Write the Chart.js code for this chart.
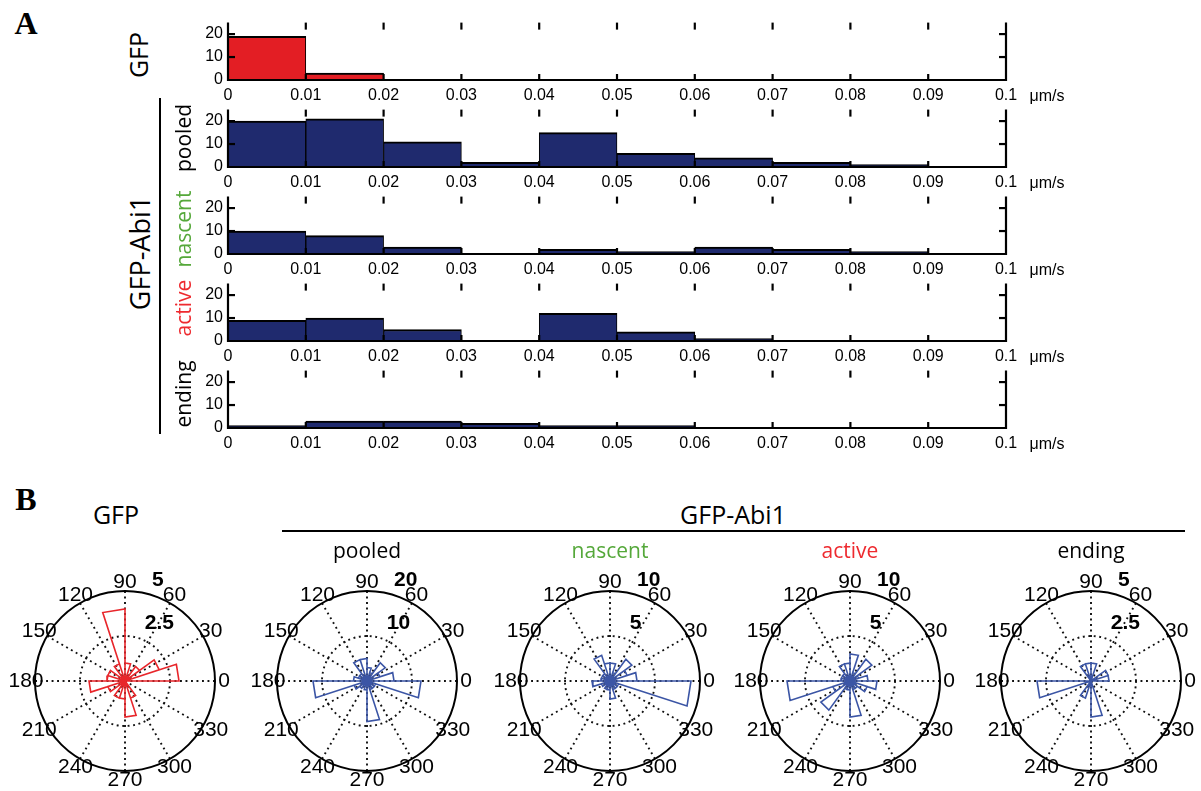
<!DOCTYPE html>
<html>
<head>
<meta charset="utf-8">
<script src="https://cdn.jsdelivr.net/npm/chart.js@4.4.1/dist/chart.umd.min.js"></script>
<style>
body{margin:0;background:#fff;width:1201px;height:791px;position:relative;overflow:hidden;font-family:"Open Sans",sans-serif}
.lbl{position:absolute;white-space:nowrap;line-height:1;color:#000}
canvas{position:absolute}
</style>
</head>
<body>
<script>
// histogram data (panel A), bins of 0.01 um/s
var edges = [0, 0.01, 0.02, 0.03, 0.04, 0.05, 0.06, 0.07, 0.08, 0.09, 0.1];
var yTicks = [0, 10, 20];
var histGFP     = [19, 3, 0, 0, 0, 0, 0, 0, 0, 0];
var histPooled  = [20, 21, 11, 2, 15, 6, 4, 2, 1, 0];
var histNascent = [10, 8, 3, 0, 2, 1, 3, 2, 1, 0];
var histActive  = [9, 10, 5, 0, 12, 4, 1, 0, 0, 0];
var histEnding  = [1, 3, 3, 2, 1, 1, 0, 0, 0, 0];
var histNames = ['GFP', 'pooled', 'nascent', 'active', 'ending'];

// rose data (panel B), 20 bins of 18 degrees
var roseEdges = [0, 18, 36, 54, 72, 90, 108, 126, 144, 162, 180, 198, 216, 234, 252, 270, 288, 306, 324, 342, 360];
var angleLabels = [0, 30, 60, 90, 120, 150, 180, 210, 240, 270, 300, 330];
var roseGFP     = [3, 2, 1, 0, 1, 4, 1, 0, 1, 1, 2, 1, 0, 1, 1, 2, 1, 0, 0, 0];
var rosePooled  = [6, 3, 5, 2, 3, 5, 5, 2, 2, 3, 12, 3, 2, 1, 2, 9, 2, 2, 2, 12];
var roseNascent = [3, 2, 3, 1, 2, 2, 3, 1, 1, 1, 2, 1, 0, 1, 1, 2, 1, 1, 1, 9];
var roseActive  = [2, 1, 3, 1, 3, 2, 2, 1, 1, 1, 7, 2, 4, 1, 1, 4, 1, 1, 2, 3];
var roseEnding  = [1, 1, 0, 0, 1, 1, 1, 0, 0, 0, 3, 0, 0, 1, 0, 2, 0, 0, 0, 0];
var roseMax  = [5, 20, 10, 10, 5];
var roseTitles = ['', 'pooled', 'nascent', 'active', 'ending'];

var RED = '#e31e24', NAVY = '#1f2a6e', ROSE_RED = '#e8262b', ROSE_BLUE = '#3b55a5';
var GREEN = '#55a83a', ACT_RED = '#ee2a2f';

function addText(txt, cx, cy, size, opts) {
	opts = opts || {};
	var d = document.createElement('div');
	d.className = 'lbl';
	d.textContent = txt;
	d.style.left = cx + 'px';
	d.style.top = cy + 'px';
	d.style.fontSize = size + 'px';
	if (opts.color) d.style.color = opts.color;
	if (opts.family) d.style.fontFamily = opts.family;
	if (opts.bold) d.style.fontWeight = 'bold';
	d.style.transform = 'translate(-50%,-50%)' + (opts.rot ? ' rotate(' + opts.rot + 'deg)' : '');
	document.body.appendChild(d);
}
function addLine(x, y, w, h) {
	var d = document.createElement('div');
	d.style.position = 'absolute';
	d.style.left = x + 'px'; d.style.top = y + 'px';
	d.style.width = w + 'px'; d.style.height = h + 'px';
	d.style.background = '#000';
	document.body.appendChild(d);
}
function newCanvas(left, top, w, h) {
	var c = document.createElement('canvas');
	c.width = w; c.height = h;
	c.style.left = left + 'px'; c.style.top = top + 'px';
	c.style.width = w + 'px'; c.style.height = h + 'px';
	document.body.appendChild(c);
	return c;
}

// axes box with inward ticks (matlab style)
var boxTicks = {
	id: 'boxTicks',
	afterDatasetsDraw: function(chart) {
		var ctx = chart.ctx, a = chart.chartArea, x = chart.scales.x, y = chart.scales.y;
		function seg(x1, y1, x2, y2) { ctx.beginPath(); ctx.moveTo(x1, y1); ctx.lineTo(x2, y2); ctx.stroke(); }
		ctx.save();
		ctx.strokeStyle = '#000';
		ctx.lineWidth = 2.2;
		ctx.beginPath();
		ctx.moveTo(a.left, a.top); ctx.lineTo(a.left, a.bottom);
		ctx.lineTo(a.right, a.bottom); ctx.lineTo(a.right, a.top);
		ctx.stroke();
		x.ticks.forEach(function(t) {
			var px = x.getPixelForValue(t.value);
			if (px <= a.left + 1 || px >= a.right - 1) return;
			seg(px, a.top, px, a.top + 7);
			seg(px, a.bottom, px, a.bottom - 6);
		});
		y.ticks.forEach(function(t) {
			if (t.value === 0) return;
			var py = y.getPixelForValue(t.value);
			seg(a.left, py, a.left + 7, py);
			seg(a.right, py, a.right - 7, py);
		});
		ctx.restore();
	}
};

function makeHist(counts, color, bottom) {
	var c = newCanvas(180, bottom - 72, 880, 98);
	var pts = counts.map(function(v, i) { return { x: (edges[i] + edges[i + 1]) / 2, y: v }; });
	var tickFont = { family: 'Liberation Sans', size: 16 };
	return new Chart(c, {
		type: 'bar',
		data: { datasets: [{
			data: pts,
			backgroundColor: color,
			borderColor: '#000',
			borderWidth: { top: 2, left: 1, right: 1, bottom: 0 },
			borderSkipped: false,
			barPercentage: 1,
			categoryPercentage: 1
		}] },
		options: {
			responsive: false,
			animation: false,
			events: [],
			layout: { padding: { top: 10, right: 54, left: 0, bottom: 0 } },
			plugins: { legend: { display: false }, tooltip: { enabled: false } },
			scales: {
				x: {
					type: 'linear', min: 0, max: 0.1, offset: false,
					grid: { display: false, drawTicks: false }, border: { display: false },
					afterBuildTicks: function(s) { s.ticks = edges.map(function(v) { return { value: v }; }); },
					ticks: { callback: function(v) { return String(+v.toFixed(2)); }, font: tickFont, color: '#000', padding: 6, maxRotation: 0, autoSkip: false },
					afterFit: function(s) { s.height = 26; }
				},
				y: {
					min: 0, max: 25,
					grid: { display: false, drawTicks: false }, border: { display: false },
					afterBuildTicks: function(s) { s.ticks = yTicks.map(function(v) { return { value: v }; }); },
					ticks: { font: tickFont, color: '#000', padding: 5 },
					afterFit: function(s) { s.width = 48; }
				}
			}
		},
		plugins: [boxTicks]
	});
}

// polar grid for rose plots
var polarGrid = {
	id: 'polarGrid',
	beforeDatasetsDraw: function(chart) {
		var ctx = chart.ctx, x = chart.scales.x, y = chart.scales.y;
		var rmax = chart.options.plugins.polarGrid.rmax;
		var cx = x.getPixelForValue(0), cy = y.getPixelForValue(0);
		var R = x.getPixelForValue(rmax) - cx;
		ctx.save();
		ctx.strokeStyle = '#111';
		ctx.lineWidth = 1.9;
		ctx.setLineDash([1.9, 3.6]);
		angleLabels.forEach(function(a) {
			var t = a * Math.PI / 180;
			ctx.beginPath();
			ctx.moveTo(cx, cy);
			ctx.lineTo(cx + R * Math.cos(t), cy - R * Math.sin(t));
			ctx.stroke();
		});
		ctx.beginPath();
		ctx.arc(cx, cy, R / 2, 0, Math.PI * 2);
		ctx.stroke();
		ctx.setLineDash([]);
		ctx.lineWidth = 2;
		ctx.strokeStyle = '#000';
		ctx.beginPath();
		ctx.arc(cx, cy, R, 0, Math.PI * 2);
		ctx.stroke();
		ctx.restore();
	},
	afterDraw: function(chart) {
		var ctx = chart.ctx, x = chart.scales.x, y = chart.scales.y;
		var rmax = chart.options.plugins.polarGrid.rmax;
		var cx = x.getPixelForValue(0), cy = y.getPixelForValue(0);
		var R = x.getPixelForValue(rmax) - cx;
		ctx.save();
		ctx.fillStyle = '#000';
		ctx.font = '21px "Liberation Sans"';
		ctx.textAlign = 'center';
		ctx.textBaseline = 'middle';
		angleLabels.forEach(function(a) {
			var t = a * Math.PI / 180;
			ctx.fillText(String(a), cx + 1.1 * R * Math.cos(t), cy - 1.1 * R * Math.sin(t));
		});
		ctx.font = 'bold 21px "Liberation Sans"';
		ctx.textAlign = 'left';
		ctx.fillText(String(rmax), cx + 0.3 * R, cy - 1.12 * R);
		ctx.fillText(String(rmax / 2), cx + 0.22 * R, cy - 0.64 * R);
		ctx.restore();
	}
};

function rosePoints(counts) {
	var pts = [];
	counts.forEach(function(c, i) {
		var a1 = roseEdges[i] * Math.PI / 180, a2 = roseEdges[i + 1] * Math.PI / 180;
		pts.push({ x: 0, y: 0 });
		pts.push({ x: c * Math.cos(a1), y: c * Math.sin(a1) });
		pts.push({ x: c * Math.cos(a2), y: c * Math.sin(a2) });
	});
	pts.push({ x: 0, y: 0 });
	return pts;
}

function makeRose(counts, rmax, color, cx, cy) {
	var c = newCanvas(cx - 130, cy - 130, 260, 260);
	return new Chart(c, {
		type: 'scatter',
		data: { datasets: [{
			data: rosePoints(counts),
			showLine: true,
			borderColor: color,
			borderWidth: 1.6,
			pointRadius: 0,
			tension: 0,
			fill: false
		}] },
		options: {
			responsive: false,
			animation: false,
			events: [],
			layout: { padding: 40 },
			plugins: { legend: { display: false }, tooltip: { enabled: false }, polarGrid: { rmax: rmax } },
			scales: {
				x: { display: false, min: -rmax, max: rmax },
				y: { display: false, min: -rmax, max: rmax }
			}
		},
		plugins: [polarGrid]
	});
}

// ---- panel A ----
addText('A', 26, 23, 32, { family: 'Liberation Serif', bold: true });
var histData = [histGFP, histPooled, histNascent, histActive, histEnding];
var rowBottom = 80, rowStep = 87.1;
for (var i = 0; i < histData.length; i++) {
	var b = Math.round(rowBottom + i * rowStep);
	makeHist(histData[i], i === 0 ? RED : NAVY, b);
	addText('\u03bcm/s', 1047, b + 16, 16, { family: 'Liberation Sans' });
}
addText('GFP', 138, 55, 25, { rot: -90 });
addText('GFP-Abi1', 139, 253, 27, { rot: -90 });
addLine(159, 98, 2, 336);
var sideColors = ['#000', '#000', GREEN, ACT_RED, '#000'];
var sideY = [0, 137.5, 228.5, 307.5, 393.5];
for (var j = 1; j < histNames.length; j++) {
	addText(histNames[j], 183, sideY[j], 21, { rot: -90, color: sideColors[j] });
}

// ---- panel B ----
addText('B', 26, 499, 32, { family: 'Liberation Serif', bold: true });
addText('GFP', 116, 514, 25);
addText('GFP-Abi1', 733, 514, 25);
addLine(282, 530, 903, 2);
var roseData = [roseGFP, rosePooled, roseNascent, roseActive, roseEnding];
var roseCx = [125, 367, 610, 850, 1091];
var titleColors = ['#000', '#000', GREEN, ACT_RED, '#000'];
for (var k = 0; k < roseData.length; k++) {
	makeRose(roseData[k], roseMax[k], k === 0 ? ROSE_RED : ROSE_BLUE, roseCx[k], 681);
	if (roseTitles[k]) addText(roseTitles[k], roseCx[k], 550, 21, { color: titleColors[k] });
}
</script>
</body>
</html>
